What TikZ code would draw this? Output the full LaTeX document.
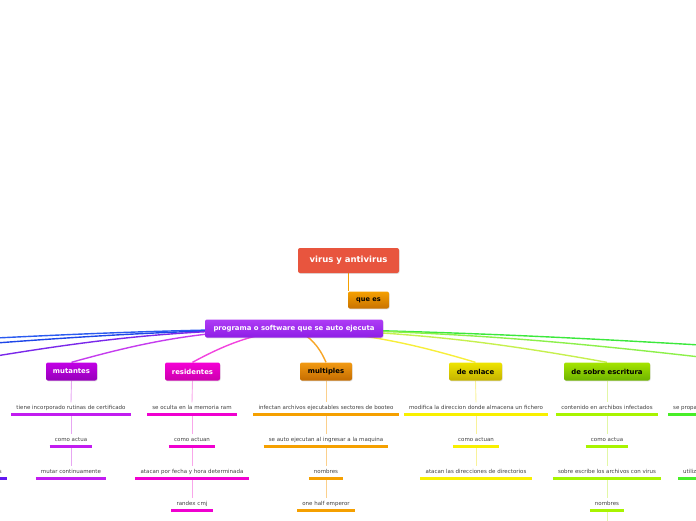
\documentclass[tikz,border=0pt]{standalone}
\usepackage{fontspec}
\setmainfont{DejaVu Sans}
\usepackage{xcolor}
\usetikzlibrary{positioning,shadows,backgrounds}

\definecolor{virusred}{HTML}{E8553E}
\definecolor{queTop}{HTML}{F5A000}   \definecolor{queBot}{HTML}{C97200}
\definecolor{progTop}{HTML}{AE3CF5}  \definecolor{progBot}{HTML}{8E1EE6}
\definecolor{mutTop}{HTML}{C200E6}   \definecolor{mutBot}{HTML}{9600BA}
\definecolor{resTop}{HTML}{F500D5}   \definecolor{resBot}{HTML}{CC00AE}
\definecolor{mulTop}{HTML}{F29A12}   \definecolor{mulBot}{HTML}{C46C00}
\definecolor{enlTop}{HTML}{EEE400}   \definecolor{enlBot}{HTML}{C4B200}
\definecolor{sobTop}{HTML}{A4E400}   \definecolor{sobBot}{HTML}{6EB400}
% underlines, stems, branches
\definecolor{mutU}{HTML}{C21CF0} \definecolor{mutS}{HTML}{E7A6F2} \definecolor{mutB}{HTML}{C53CEE}
\definecolor{resU}{HTML}{F000D0} \definecolor{resS}{HTML}{F9A6EA} \definecolor{resB}{HTML}{F243DE}
\definecolor{mulU}{HTML}{F5A000} \definecolor{mulS}{HTML}{FBD08C} \definecolor{mulB}{HTML}{F7A526}
\definecolor{enlU}{HTML}{F8F000} \definecolor{enlS}{HTML}{F9F29A} \definecolor{enlB}{HTML}{F7EE3A}
\definecolor{sobU}{HTML}{A8F400} \definecolor{sobS}{HTML}{E2F7A6} \definecolor{sobB}{HTML}{C6F04E}
\definecolor{leftU}{HTML}{6418F0} \definecolor{rightU}{HTML}{48EE28}
\definecolor{blueA}{HTML}{2A5AF0} \definecolor{blueB}{HTML}{1E46E8} \definecolor{purpC}{HTML}{7A28EA}
\definecolor{greenD}{HTML}{3CE83C} \definecolor{greenE}{HTML}{8CF04A}

\begin{document}
\begin{tikzpicture}[x=1pt,y=1pt,
  box/.style={rounded corners=2pt,inner sep=0pt,minimum height=18pt,
    font=\bfseries\fontsize{6.9}{7}\selectfont,
    drop shadow={opacity=.25,shadow xshift=.6pt,shadow yshift=-.8pt}},
  leaf/.style={anchor=south,inner xsep=5pt,inner ysep=3.3pt,text height=4pt,text depth=1.2pt,
    text=black!75,font=\fontsize{5.5}{6}\selectfont,
    append after command={(\tikzlastnode.south west) edge[line width=2.5pt,draw=#1] (\tikzlastnode.south east)}},
  branch/.style={draw=#1,line width=1.4pt},
  stem/.style={draw=#1,line width=.9pt}]
  \useasboundingbox (0,-520) rectangle (696,0);

  % main boxes
  \node[box,fill=virusred,text=white,minimum width=101pt,minimum height=25pt,
        font=\bfseries\fontsize{8.5}{9}\selectfont] (virus) at (348.5,-260.5) {virus y antivirus};
  \node[box,top color=queTop,bottom color=queBot,minimum width=41pt,minimum height=17pt,
        font=\bfseries\fontsize{6.6}{7}\selectfont] (que) at (368.5,-300) {que es};
  \node[box,top color=progTop,bottom color=progBot,text=white,minimum width=178pt] (prog) at (294,-328.5) {programa o software que se auto ejecuta};

  \node[box,top color=mutTop,bottom color=mutBot,text=white,minimum width=51pt] (mut) at (71.5,-371.5) {mutantes};
  \node[box,top color=resTop,bottom color=resBot,text=white,minimum width=55pt] (res) at (192.5,-371.5) {residentes};
  \node[box,top color=mulTop,bottom color=mulBot,minimum width=52pt] (mul) at (326,-371.5) {multiples};
  \node[box,top color=enlTop,bottom color=enlBot,minimum width=53pt] (enl) at (475.5,-371.5) {de enlace};
  \node[box,top color=sobTop,bottom color=sobBot,minimum width=86pt] (sob) at (607,-371.5) {de sobre escritura};

  % leaves
  \foreach \txt [count=\i] in {tiene incorporado rutinas de certificado,como actua,mutar continuamente}
    {\node[leaf=mutU] (mut\i) at (71,{-414.5-32*(\i-1)}) {\txt};}
  \foreach \txt [count=\i] in {se oculta en la memoria ram,como actuan,atacan por fecha y hora determinada,randex cmj}
    {\node[leaf=resU] (res\i) at (192,{-414.5-32*(\i-1)}) {\txt};}
  \foreach \txt [count=\i] in {infectan archivos ejecutables sectores de booteo,se auto ejecutan al ingresar a la maquina,nombres,one half emperor}
    {\node[leaf=mulU] (mul\i) at (326,{-414.5-32*(\i-1)}) {\txt};}
  \foreach \txt [count=\i] in {modifica la direccion donde almacena un fichero,como actuan,atacan las direcciones de directorios}
    {\node[leaf=enlU] (enl\i) at (476,{-414.5-32*(\i-1)}) {\txt};}
  \foreach \txt [count=\i] in {contenido en archibos infectados,como actua,sobre escribe los archivos con virus,nombres}
    {\node[leaf=sobU] (sob\i) at (607,{-414.5-32*(\i-1)}) {\txt};}

  % cut off at the edges
  \node[leaf=leftU,anchor=south east] (lft3) at (7,-478.5) {s};
  \node[leaf=rightU,anchor=south west] (rgt1) at (668,-414.5) {se propagan};
  \node[leaf=rightU,anchor=south west] (rgt3) at (678,-478.5) {utilizan};

  \coordinate (offA) at (-4,-338);
  \coordinate (offB) at (-4,-343);
  \coordinate (offC) at (-4,-356);
  \coordinate (offD) at (700,-345);
  \coordinate (offE) at (700,-357);
  \coordinate (sobEnd) at (607,-526);

  \begin{scope}[on background layer]
    \draw[draw=queTop,line width=1pt] (virus.south) -- (virus.south |- que.north);
    \draw[branch=blueA] (prog.center) to[bend right=1] (offA);
    \draw[branch=blueB] (prog.center) to[bend right=1.5] (offB);
    \draw[branch=purpC] (prog.center) to[bend right=4] (offC);
    \draw[branch=mutB] (prog.center) to[bend right=7] (mut.north);
    \draw[branch=resB] (prog.center) to[bend right=10] (res.north);
    \draw[branch=mulB] (prog.center) to[bend left=20] (mul.north);
    \draw[branch=enlB] (prog.center) to[bend left=6] (enl.north);
    \draw[branch=sobB] (prog.center) to[bend left=4] (sob.north);
    \draw[branch=greenD] (prog.center) to[bend left=1] (offD);
    \draw[branch=greenE] (prog.center) to[bend left=2.5] (offE);

    \draw[stem=mutS] (mut.south) -- (mut1.north);
    \foreach \i/\j in {1/2,2/3} {\draw[stem=mutS] (mut\i.south) -- (mut\j.north);}
    \draw[stem=resS] (res.south) -- (res1.north);
    \foreach \i/\j in {1/2,2/3,3/4} {\draw[stem=resS] (res\i.south) -- (res\j.north);}
    \draw[stem=mulS] (mul.south) -- (mul1.north);
    \foreach \i/\j in {1/2,2/3,3/4} {\draw[stem=mulS] (mul\i.south) -- (mul\j.north);}
    \draw[stem=enlS] (enl.south) -- (enl1.north);
    \foreach \i/\j in {1/2,2/3} {\draw[stem=enlS] (enl\i.south) -- (enl\j.north);}
    \draw[stem=sobS] (sob.south) -- (sob1.north);
    \foreach \i/\j in {1/2,2/3,3/4} {\draw[stem=sobS] (sob\i.south) -- (sob\j.north);}
    \draw[stem=sobS] (sob4.south) -- (sobEnd);
  \end{scope}
\end{tikzpicture}
\end{document}
